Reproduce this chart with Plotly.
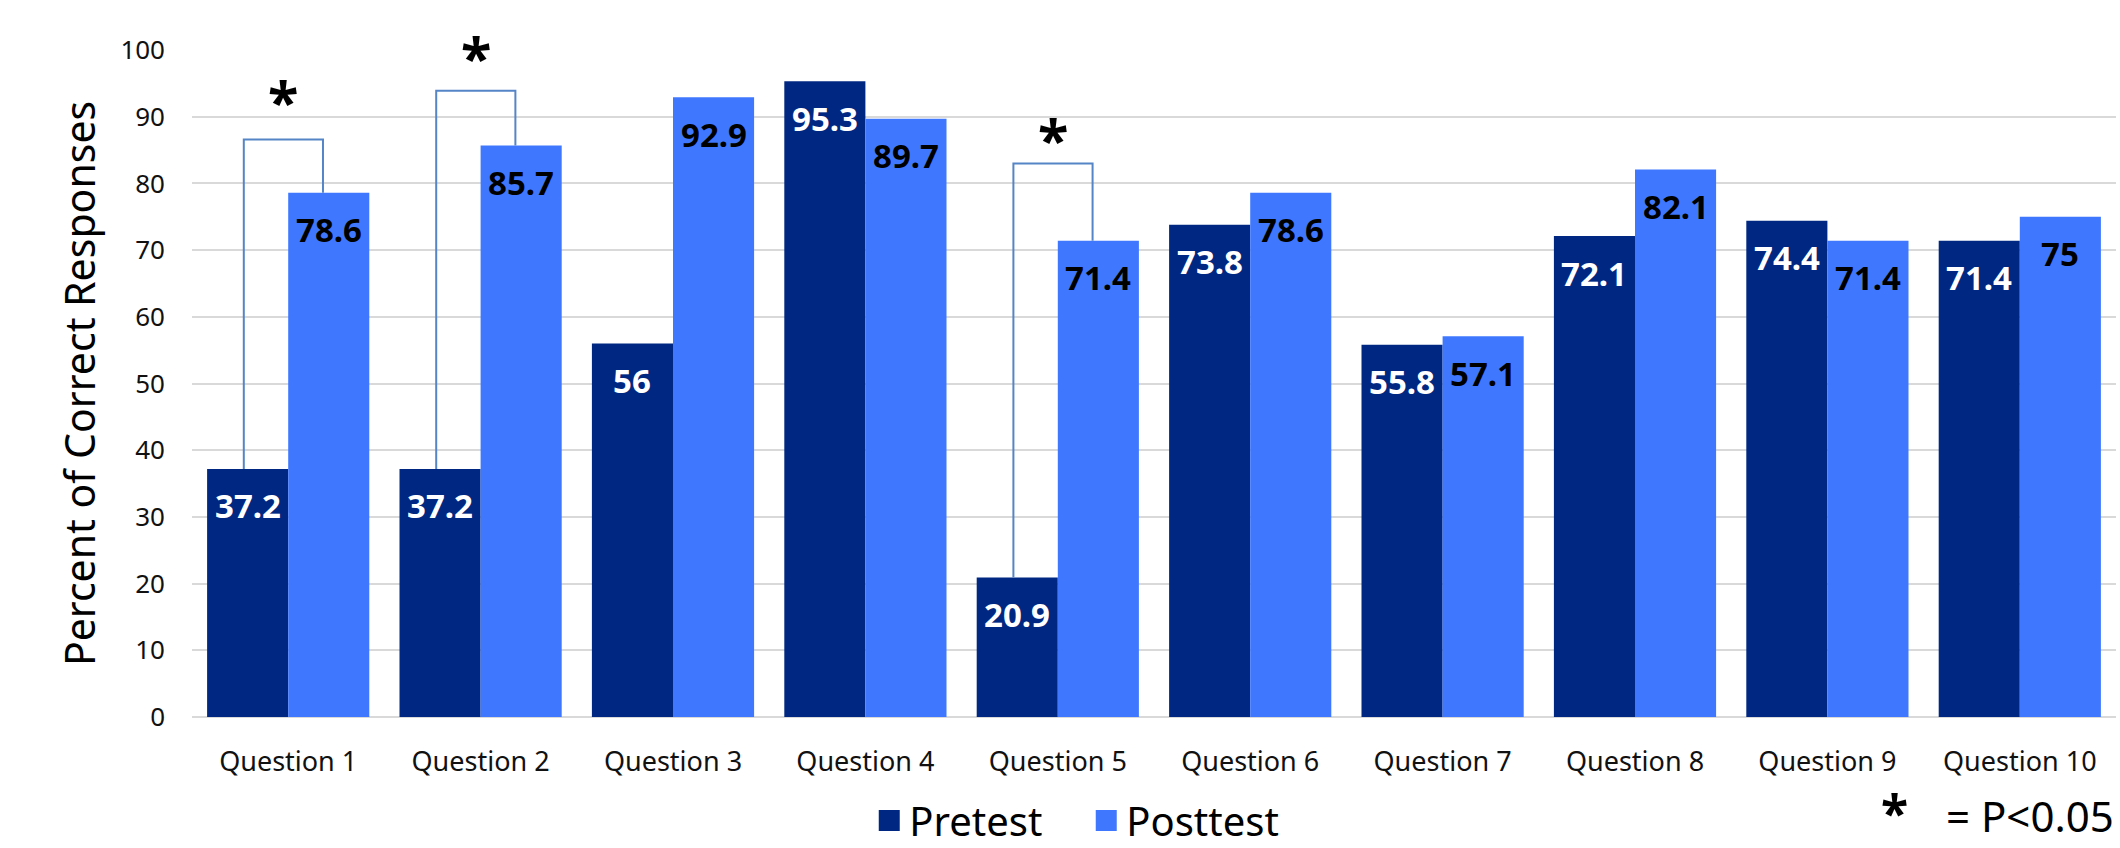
import plotly.graph_objects as go

categories = ["Question 1", "Question 2", "Question 3", "Question 4", "Question 5",
              "Question 6", "Question 7", "Question 8", "Question 9", "Question 10"]
pretest = [37.2, 37.2, 56, 95.3, 20.9, 73.8, 55.8, 72.1, 74.4, 71.4]
posttest = [78.6, 85.7, 92.9, 89.7, 71.4, 78.6, 57.1, 82.1, 71.4, 75]

# significance brackets: category index, bracket top height, asterisk height
sig_index = [0, 1, 4]
sig_bracket_top = [86.6, 93.9, 83.0]
sig_star_y = [93.3, 99.8, 87.6]

y_ticks = [0, 10, 20, 30, 40, 50, 60, 70, 80, 90, 100]

PRE_COLOR = "#002882"
POST_COLOR = "#3f78ff"
BRACKET_COLOR = "#5585c6"
FONT = "Noto Sans"

idx = list(range(len(categories)))
bargap = 0.157
half = (1 - bargap) / 4  # offset of each bar centre from category centre

fig = go.Figure()
fig.add_trace(go.Bar(x=idx, y=pretest, name="Pretest", marker_color=PRE_COLOR,
                     marker_line_width=0, showlegend=False))
fig.add_trace(go.Bar(x=idx, y=posttest, name="Posttest", marker_color=POST_COLOR,
                     marker_line_width=0, showlegend=False))

# legend proxies
for name, col in [("Pretest", PRE_COLOR), ("Posttest", POST_COLOR)]:
    fig.add_trace(go.Scatter(x=[None], y=[None], mode="markers", name=name,
                             marker=dict(symbol="square", size=30, color=col,
                                         line=dict(color=col, width=6))))

annotations = []
# data labels
for i in idx:
    for vals, sign, col in [(pretest, -1, "white"), (posttest, 1, "black")]:
        v = vals[i]
        annotations.append(dict(
            x=i + sign * half, y=v, xref="x", yref="y",
            text=f"{v:g}", showarrow=False, yanchor="middle", xanchor="center",
            yshift=-37, font=dict(family=FONT, size=33, color=col, weight="bold")))

# brackets and stars
for k, i in enumerate(sig_index):
    xl = i - half - 0.02
    xr = i + half - 0.03
    top = sig_bracket_top[k]
    fig.add_trace(go.Scatter(
        x=[xl, xl, xr, xr], y=[pretest[i], top, top, posttest[i]],
        mode="lines", line=dict(color=BRACKET_COLOR, width=2),
        showlegend=False, hoverinfo="skip"))
    annotations.append(dict(
        x=(xl + xr) / 2, y=sig_star_y[k], xref="x", yref="y", text="*",
        showarrow=False, yanchor="middle", xanchor="center", yshift=-5,
        font=dict(family=FONT, size=56, color="black", weight="bold")))

# footnote
annotations.append(dict(x=0.885, y=-0.128, xref="paper", yref="paper", text="*",
                        showarrow=False, xanchor="center", yanchor="middle", yshift=-10,
                        font=dict(family=FONT, size=50, color="black", weight="bold")))
annotations.append(dict(x=1.0, y=-0.147, xref="paper", yref="paper", text="= P<0.05",
                        showarrow=False, xanchor="right", yanchor="middle",
                        font=dict(family=FONT, size=42, color="black")))

fig.update_layout(
    width=2120, height=848,
    margin=dict(l=192, r=4, t=50, b=131, autoexpand=False),
    paper_bgcolor="white", plot_bgcolor="white",
    barmode="group", bargap=bargap, bargroupgap=0,
    font=dict(family=FONT, color="black"),
    annotations=annotations,
    legend=dict(orientation="h", x=0.352, xanchor="left", y=-0.155, yanchor="middle",
                font=dict(family=FONT, size=40, color="black"),
                itemsizing="trace", entrywidth=172, bgcolor="rgba(0,0,0,0)"),
    xaxis=dict(range=[-0.5, len(categories) - 0.5], tickmode="array",
               tickvals=idx, ticktext=categories, showgrid=False,
               showline=False, zeroline=False, ticks="",
               tickfont=dict(family=FONT, size=27, color="#111111"),
               ticklabelstandoff=26),
    yaxis=dict(range=[0, 100], tickmode="array", tickvals=y_ticks,
               showgrid=True, gridcolor="#d9d9d9", gridwidth=2,
               zeroline=True, zerolinecolor="#d9d9d9", zerolinewidth=2,
               showline=False, ticks="",
               tickfont=dict(family=FONT, size=26, color="#111111"),
               ticklabelstandoff=26,
               title=dict(text="Percent of Correct Responses",
                          font=dict(family=FONT, size=41, color="black"), standoff=12),
               automargin=False),
)

fig.write_html("out.html")
